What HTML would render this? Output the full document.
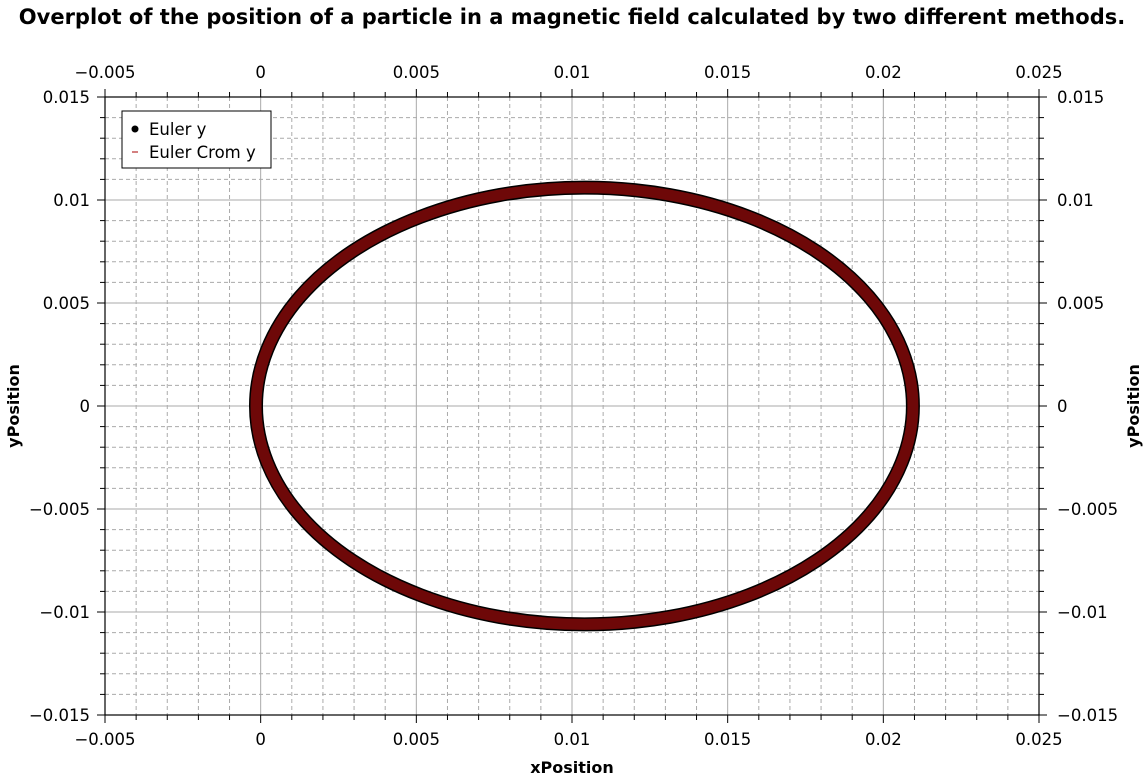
<!DOCTYPE html>
<html><head><meta charset="utf-8"><style>
body{margin:0;background:#fff;}
svg text{font-family:"DejaVu Sans","Liberation Sans",sans-serif;fill:#000;}
</style></head><body>
<svg id="chart" width="1145" height="778" viewBox="0 0 1145 778" xmlns="http://www.w3.org/2000/svg">
<text x="572" y="24" text-anchor="middle" font-size="21" font-weight="bold">Overplot of the position of a particle in a magnetic field calculated by two different methods.</text>
<g id="grid"></g><g id="axes"></g><g id="series"></g>
<text x="572" y="773" text-anchor="middle" font-size="16" font-weight="bold">xPosition</text>
<text transform="translate(19,406) rotate(-90)" text-anchor="middle" font-size="16" font-weight="bold">yPosition</text>
<text transform="translate(1139,406) rotate(-90)" text-anchor="middle" font-size="16" font-weight="bold">yPosition</text>
<g>
<rect x="122" y="111" width="149" height="57" fill="#fff" stroke="#000" stroke-width="1"/>
<circle cx="135" cy="129" r="3.5" fill="#000"/>
<text x="149" y="135" font-size="16.5">Euler y</text>
<line x1="132" y1="152" x2="138" y2="152" stroke="#a00" stroke-width="1"/>
<text x="149" y="158" font-size="16.5">Euler Crom y</text>
</g>
</svg>
<script>
const xTicks=[-0.005,0,0.005,0.01,0.015,0.02,0.025];
const xTickLabels=["\u22120.005","0","0.005","0.01","0.015","0.02","0.025"];
const yTicks=[-0.015,-0.01,-0.005,0,0.005,0.01,0.015];
const yTickLabels=["\u22120.015","\u22120.01","\u22120.005","0","0.005","0.01","0.015"];
const eulerX=[0.02095,0.02059,0.01954,0.01786,0.01568,0.01313,0.0104,0.00767,0.00513,0.00294,0.00126,0.00021,-0.00015,0.00021,0.00126,0.00294,0.00513,0.00767,0.0104,0.01313,0.01568,0.01786,0.01954,0.02059];
const eulerY=[0,0.00274,0.0053,0.0075,0.00918,0.01024,0.0106,0.01024,0.00918,0.0075,0.0053,0.00274,0,-0.00274,-0.0053,-0.0075,-0.00918,-0.01024,-0.0106,-0.01024,-0.00918,-0.0075,-0.0053,-0.00274];
const cromX=eulerX.slice();
const cromY=eulerY.slice();
const L=105,R=1039,T=97,B=715;
const sx=v=>L+(v+0.005)/0.03*(R-L);
const sy=v=>B-(v+0.015)/0.03*(B-T);
const NS="http://www.w3.org/2000/svg";
function mk(tag,attrs,parent){const e=document.createElementNS(NS,tag);for(const k in attrs)e.setAttribute(k,attrs[k]);parent.appendChild(e);return e;}
const grid=document.getElementById('grid'),axes=document.getElementById('axes'),series=document.getElementById('series');
for(let i=0;i<xTicks.length;i++){
  for(let m=0;m<5;m++){
    if(i==xTicks.length-1&&m>0)break;
    const v=xTicks[i]+m*0.001, x=sx(v);
    if(x>L+1&&x<R-1){const g=mk('line',{x1:x,x2:x,y1:T,y2:B,stroke:'#aaa','stroke-width':1,'stroke-dasharray':m?'4,3':''},grid);
    }
    const len=m?5:8;
    mk('line',{x1:x,x2:x,y1:B,y2:B+len,stroke:'#000'},axes);
    mk('line',{x1:x,x2:x,y1:T,y2:T-len,stroke:'#000'},axes);
  }
  const tb=mk('text',{x:sx(xTicks[i]),y:B+30,'text-anchor':'middle','font-size':16.5},axes);tb.textContent=xTickLabels[i];
  
  const tt=mk('text',{x:sx(xTicks[i]),y:T-19,'text-anchor':'middle','font-size':16.5},axes);tt.textContent=xTickLabels[i];
  
}
for(let i=0;i<yTicks.length;i++){
  for(let m=0;m<5;m++){
    if(i==yTicks.length-1&&m>0)break;
    const v=yTicks[i]+m*0.001, y=sy(v);
    if(y>T+1&&y<B-1){const g=mk('line',{x1:L,x2:R,y1:y,y2:y,stroke:'#aaa','stroke-width':1,'stroke-dasharray':m?'4,3':''},grid);
    }
    const len=m?5:8;
    mk('line',{x1:L,x2:L-len,y1:y,y2:y,stroke:'#000'},axes);
    mk('line',{x1:R,x2:R+len,y1:y,y2:y,stroke:'#000'},axes);
  }
  const tl=mk('text',{x:L-15,y:sy(yTicks[i])+6,'text-anchor':'end','font-size':16.5},axes);tl.textContent=yTickLabels[i];
  
  const tr=mk('text',{x:R+18,y:sy(yTicks[i])+6,'text-anchor':'start','font-size':16.5},axes);tr.textContent=yTickLabels[i];
  
}
mk('rect',{x:L,y:T,width:R-L,height:B-T,fill:'none',stroke:'#000','stroke-width':1.2},axes);
function path(xs,ys){
  const n=xs.length,P=xs.map((v,i)=>[sx(v),sy(ys[i])]);
  let d='M'+P[0][0]+','+P[0][1];
  for(let i=0;i<n;i++){
    const p0=P[(i-1+n)%n],p1=P[i],p2=P[(i+1)%n],p3=P[(i+2)%n];
    const c1=[p1[0]+(p2[0]-p0[0])/6,p1[1]+(p2[1]-p0[1])/6],c2=[p2[0]-(p3[0]-p1[0])/6,p2[1]-(p3[1]-p1[1])/6];
    d+='C'+c1+' '+c2+' '+p2;
  }
  return d+'Z';
}
const e=mk('path',{d:path(eulerX,eulerY),fill:'none',stroke:'#000','stroke-width':14},series);


const c=mk('path',{d:path(cromX,cromY),fill:'none',stroke:'#6e0808','stroke-width':11},series);


</script>
</body></html>
